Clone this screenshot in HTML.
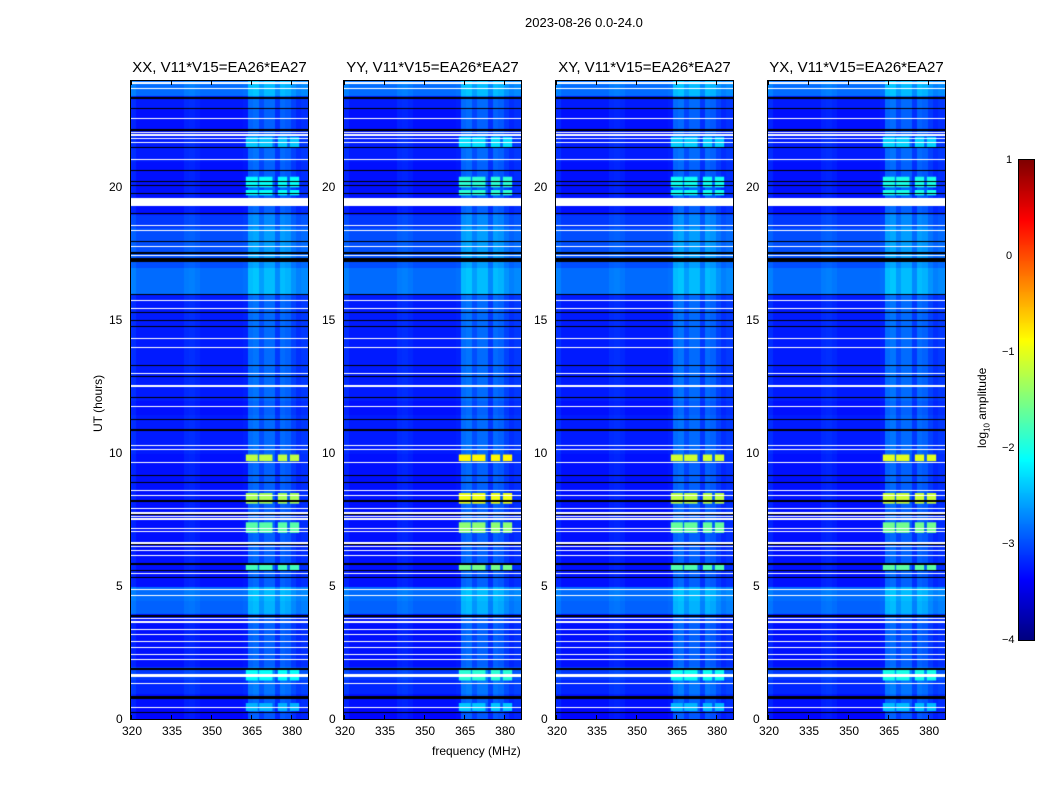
<!DOCTYPE html>
<html><head><meta charset="utf-8">
<style>
body{margin:0;background:#fff;font-family:"Liberation Sans",sans-serif;}
#root{position:relative;width:1050px;height:800px;overflow:hidden;background:#fff}
.t{position:absolute;font-size:12px;color:#000;white-space:nowrap}
.title{position:absolute;font-size:15px;white-space:nowrap;transform:translateX(-50%)}
canvas{position:absolute}
.frame{position:absolute;border:1px solid #000;box-sizing:border-box}
</style></head>
<body><div id="root">
<div class="t" style="left:525px;top:15px;font-size:13px">2023-08-26 0.0-24.0</div>
<div class="t" style="left:432px;top:744px">frequency (MHz)</div>
<div class="t" style="left:91px;top:432px;transform:rotate(-90deg);transform-origin:left top">UT (hours)</div>
<div class="t" style="left:975px;top:448px;transform:rotate(-90deg);transform-origin:left top">log<sub style="font-size:8px">10</sub> amplitude</div>
<canvas id="cb" width="15" height="480" style="left:1019px;top:160px"></canvas>
<div class="frame" style="left:1018px;top:159px;width:17px;height:482px"></div>
</div>
<script>
// ---- data ----
const panelTitles = ["XX, V11*V15=EA26*EA27","YY, V11*V15=EA26*EA27","XY, V11*V15=EA26*EA27","YX, V11*V15=EA26*EA27"];
const panelLeft = [131,344,556,768];
// base level per half-hour (log10 amplitude), 48 values, 0..24 h
const rowLevel = [-3.35,-3.3,-3.2,-3.1,-3.3,-3.3,-3.3,-3.3,-2.9,-2.85,-3.3,-3.3,-3.3,-3.3,-3.3,-3.3,-3.3,-3.3,-3.3,-3.3,
  -3.25,-3.25,-3.25,-3.3,-3.25,-3.25,-3.25,-3.25,-3.25,-3.25,-3.25,-3.25,-2.85,-2.85,-3.0,-3.0,-3.0,-3.1,-3.3,-3.3,
  -3.3,-3.3,-3.25,-3.25,-3.3,-3.3,-3.25,-2.85];
// channel profile, 2 MHz bins from 320 to 386 MHz
const chanFreq = [320,322,324,326,328,330,332,334,336,338,340,342,344,346,348,350,352,354,356,358,360,362,364,366,368,370,372,374,376,378,380,382,384];
const chanOffset = [0.1,0,0,0,0,0,0,0,0,0,0.08,0.1,0.06,0,0,0,0,0,0,0,0,0.03,0.4,0.45,0.25,0.4,0.4,0.15,0.4,0.35,0.2,0.1,0.15];
// bright-band events (start h, end h, level) affecting 363-382 MHz
const bandStart = [0.3,1.45,5.6,7.0,8.1,9.7,19.7,20.0,21.5];
const bandEnd   = [0.6,1.9,5.8,7.4,8.5,9.95,19.9,20.4,21.9];
const bandLevel = [-2.5,-2.1,-1.8,-1.7,-1.3,-1.2,-2.1,-2.1,-2.4];
// per-panel band gain (YY / YX brighter)
const panelGain = [1.0,1.2,1.05,1.1];
// flagged rows: white (hours, width in px)
const whiteH = [0.45,0.82,1.35,1.7,2.25,2.45,2.7,2.95,3.2,3.4,3.7,3.8,4.65,4.9,5.5,6.17,6.35,6.5,6.65,7.07,7.2,7.55,7.65,7.8,7.95,8.43,8.6,9.67,10.15,10.3,11.78,12.57,13.0,14.33,14.0,15.45,15.75,17.45,17.8,18.0,18.4,18.6,19.45,19.55,19.6,21.07,21.7,21.85,22.0,22.1,22.6,23.75,23.95];
const whiteW = [1,2,1,3,1,1,1,1,1,1,2,1,1,1,1,1,1,1,2,1,1,2,1,2,1,1,1,1,1,1,1,2,1,1,1,1,1,1,1,1,1,1,4,4,4,1,1,1,2,1,1,1,2];
const blackH = [0.25,0.87,1.9,3.9,5.35,5.6,5.87,6.6,7.7,8.24,8.9,9.18,10.9,11.3,12.1,12.9,13.3,14.8,15.0,15.3,16.0,17.3,17.35,17.55,18.0,19.05,19.8,20.1,20.25,20.65,21.5,22.2,23.0,23.4];
const blackW = [1,3,2,2,1,1,2,1,1,2,1,1,2,1,1,1,1,1,1,1,1,3,3,2,1,1,1,1,1,1,1,2,1,2];
const xTicks = [320,335,350,365,380];
const yTicks = [0,5,10,15,20];
const cbTicks = [1,0,-1,-2,-3,-4];

// ---- geometry ----
const TOP=81, BOT=719, W=177, F0=320, F1=386.3;
const yOf = h => BOT - h*(BOT-TOP)/24;
const xOf = (f,L) => L + (f-F0)*W/(F1-F0);
function jet(v){
  v=Math.max(0,Math.min(1,v));
  const c=x=>Math.round(255*Math.max(0,Math.min(1,1.5-Math.abs(x))));
  return [c(4*v-3),c(4*v-2),c(4*v-1)];
}
const norm = l => (l+4)/5;
const root=document.getElementById('root');

panelLeft.forEach((L,p)=>{
  const cv=document.createElement('canvas');
  cv.width=W; cv.height=BOT-TOP;
  cv.style.left=L+'px'; cv.style.top=TOP+'px';
  
  
  root.appendChild(cv);
  const ctx=cv.getContext('2d');
  for(let r=0;r<rowLevel.length;r++){
    for(let c=0;c<chanFreq.length;c++){
      const h0=r*0.5,h1=h0+0.5;
      let lvl=rowLevel[r]+chanOffset[c];
      const [R,G,B]=jet(norm(lvl));
      ctx.fillStyle=`rgb(${R},${G},${B})`;
      const x0=xOf(chanFreq[c],0), x1=xOf(chanFreq[c]+2,0);
      ctx.fillRect(Math.floor(x0),Math.floor(yOf(h1)-TOP),Math.ceil(x1-x0)+1,Math.ceil(yOf(h0)-yOf(h1))+1);
    }
  }
  const subs=[[363,367.5],[368,373],[375,378.5],[379.5,383]];
  bandStart.forEach((s,i)=>{
    let lvl=-3+(bandLevel[i]+3)*panelGain[p];
    const [R,G,B]=jet(norm(lvl));
    ctx.fillStyle=`rgb(${R},${G},${B})`;
    subs.forEach(sb=>{
      const x0=xOf(sb[0],0),x1=xOf(sb[1],0);
      ctx.fillRect(x0,yOf(bandEnd[i])-TOP,x1-x0,yOf(bandStart[i])-yOf(bandEnd[i]));
    });
  });
  ctx.fillStyle='#fff';
  whiteH.forEach((h,i)=>ctx.fillRect(0,Math.round(yOf(h)-TOP),W,whiteW[i]));
  ctx.fillStyle='#000';
  blackH.forEach((h,i)=>ctx.fillRect(0,Math.round(yOf(h)-TOP),W,blackW[i]));

  const fr=document.createElement('div');
  fr.className='frame';
  fr.style.cssText=`left:${L-1}px;top:${TOP-1}px;width:${W+2}px;height:${BOT-TOP+2}px`;
  
  
  root.appendChild(fr);

  const tt=document.createElement('div');
  tt.className='title';
  tt.style.left=(L+W/2)+'px'; tt.style.top='59px';
  tt.textContent=panelTitles[p];
  
  
  root.appendChild(tt);

  xTicks.forEach(f=>{
    const x=xOf(f,L);
    const lb=document.createElement('div');
    lb.className='t';
    lb.style.left=(x-9)+'px'; lb.style.top='724px';
    lb.textContent=f;
    
    
    root.appendChild(lb);
    ['top','bot'].forEach(k=>{
      const tk=document.createElement('div');
      tk.style.cssText=`position:absolute;left:${Math.round(x)}px;top:${k=='top'?TOP:BOT-4}px;width:1px;height:4px;background:#000`;
      
      
      root.appendChild(tk);
    });
  });
  yTicks.forEach(h=>{
    const y=yOf(h);
    const lb=document.createElement('div');
    lb.className='t';
    lb.style.left=(L-8-(h>=10?14:7))+'px'; lb.style.top=(y-7)+'px';
    lb.textContent=h;
    
    
    root.appendChild(lb);
  });
});

// colorbar
const cb=document.getElementById('cb').getContext('2d');
for(let i=0;i<480;i++){
  const [R,G,B]=jet(1-i/479);
  cb.fillStyle=`rgb(${R},${G},${B})`;
  cb.fillRect(0,i,15,1);
}
cbTicks.forEach(v=>{
  const y=160+(1-v)*96;
  const lb=document.createElement('div');
  lb.className='t';
  lb.style.cssText=`left:${v<0?1002:1006}px;top:${y-6}px;font-size:11px`;
  lb.textContent=v<0?'\u2212'+(-v):v;
  
  
  root.appendChild(lb);
});
</script>
</body></html>
